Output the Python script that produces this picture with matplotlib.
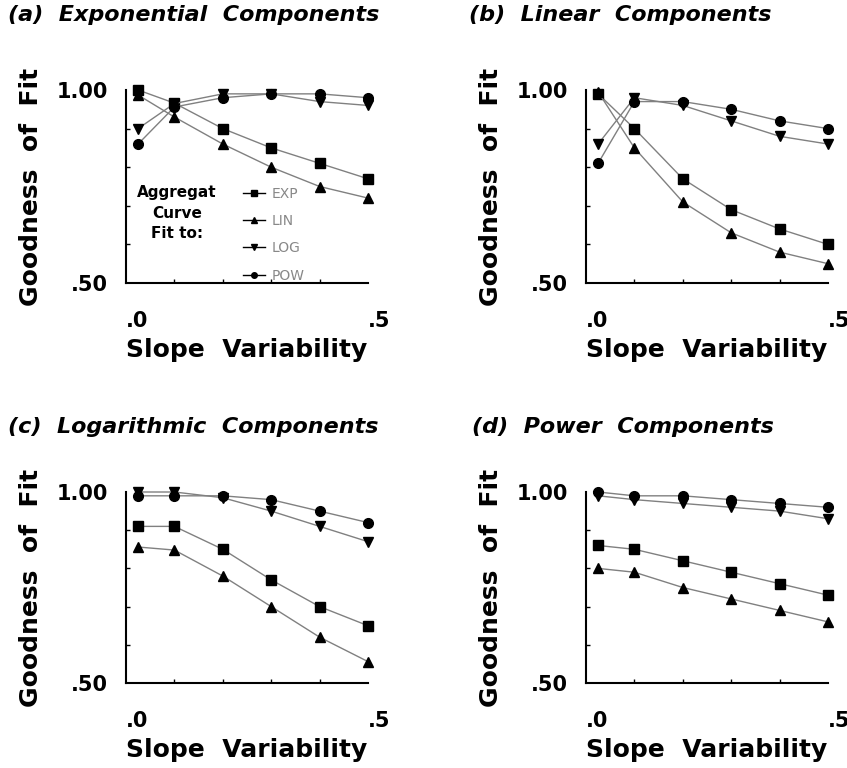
import matplotlib
matplotlib.use("Agg")
import matplotlib.pyplot as plt
from matplotlib.lines import Line2D
from matplotlib.ticker import FixedLocator

plt.rcParams['font.family'] = ['DejaVu Sans']

# slope variability levels
slope_var = [0.025, 0.1, 0.2, 0.3, 0.4, 0.5]

# (a) exponential components
a_exp = [1.00, 0.966, 0.90, 0.85, 0.81, 0.77]
a_lin = [0.987, 0.93, 0.86, 0.80, 0.75, 0.72]
a_log = [0.90, 0.965, 0.99, 0.99, 0.97, 0.96]
a_pow = [0.86, 0.956, 0.98, 0.99, 0.99, 0.98]

# (b) linear components
b_exp = [0.99, 0.90, 0.77, 0.69, 0.64, 0.60]
b_lin = [0.995, 0.85, 0.71, 0.63, 0.58, 0.55]
b_log = [0.86, 0.98, 0.96, 0.92, 0.88, 0.86]
b_pow = [0.81, 0.97, 0.97, 0.95, 0.92, 0.90]

# (c) logarithmic components
c_exp = [0.91, 0.91, 0.85, 0.77, 0.70, 0.65]
c_lin = [0.856, 0.848, 0.78, 0.70, 0.62, 0.556]
c_log = [1.00, 1.00, 0.985, 0.95, 0.91, 0.87]
c_pow = [0.99, 0.99, 0.99, 0.98, 0.95, 0.92]

# (d) power components
d_exp = [0.86, 0.85, 0.82, 0.79, 0.76, 0.73]
d_lin = [0.80, 0.79, 0.75, 0.72, 0.69, 0.66]
d_log = [0.99, 0.98, 0.97, 0.96, 0.95, 0.93]
d_pow = [1.00, 0.99, 0.99, 0.98, 0.97, 0.96]

fit_names = ['EXP', 'LIN', 'LOG', 'POW']
markers = ['s', '^', 'v', 'o']
titles = ['(a)  Exponential  Components', '(b)  Linear  Components',
          '(c)  Logarithmic  Components', '(d)  Power  Components']
panels = [
    [a_exp, a_lin, a_log, a_pow],
    [b_exp, b_lin, b_log, b_pow],
    [c_exp, c_lin, c_log, c_pow],
    [d_exp, d_lin, d_log, d_pow],
]

W, H = 847, 768
fig = plt.figure(figsize=(W / 100, H / 100), dpi=100)

# axes boxes in pixels: left, top, right, bottom
boxes = [(126, 90, 368, 283), (586, 90, 828, 283),
         (126, 492, 368, 683), (586, 492, 828, 683)]
title_pos = [(8, 15), (469, 15), (8, 427), (472, 427)]

for i, (series, box) in enumerate(zip(panels, boxes)):
    l, t, r, b = box
    ax = fig.add_axes([l / W, 1 - b / H, (r - l) / W, (b - t) / H])
    for vals, m in zip(series, markers):
        ax.plot(slope_var, vals, color='#808080', lw=1.0, marker=m,
                markersize=7, markerfacecolor='black', markeredgecolor='black',
                clip_on=False, zorder=3)
    ax.set_xlim(0, 0.5)
    ax.set_ylim(0.5, 1.0)
    for s in ['top', 'right']:
        ax.spines[s].set_visible(False)
    for s in ['left', 'bottom']:
        ax.spines[s].set_linewidth(1.5)
    ax.set_xticks([0, 0.5])
    ax.set_xticklabels(['.0', '.5'], ha='left', fontsize=15, fontweight='bold')
    ax.set_yticks([0.5, 1.0])
    ax.set_yticklabels(['.50', '1.00'], fontsize=15, fontweight='bold')
    ax.xaxis.set_minor_locator(FixedLocator([0.1, 0.2, 0.3, 0.4]))
    ax.yaxis.set_minor_locator(FixedLocator([0.6, 0.7, 0.8, 0.9]))
    ax.tick_params(axis='both', which='major', length=0, pad=13)
    ax.tick_params(axis='x', which='major', pad=20)
    ax.tick_params(axis='both', which='minor', direction='in', length=3, width=1)
    ax.set_xlabel('Slope  Variability', fontsize=18, fontweight='bold', labelpad=5)
    ax.set_ylabel('Goodness  of  Fit', fontsize=18, fontweight='bold', labelpad=10)

    tx, ty = title_pos[i]
    fig.text(tx / W, 1 - ty / H, titles[i], fontsize=16, fontweight='bold',
             style='italic', ha='left', va='center')

    if i == 0:
        fig.text(177 / W, 1 - 213 / H, 'Aggregat\nCurve\nFit to:', fontsize=11,
                 fontweight='bold', ha='center', va='center', linespacing=1.45)
        handles = [Line2D([], [], color='black', lw=1, marker=m, markersize=4)
                   for m in markers]
        ax.legend(handles, fit_names, loc='upper left',
                  bbox_to_anchor=(236 / W, 1 - 180 / H),
                  bbox_transform=fig.transFigure, frameon=False,
                  fontsize=10, labelcolor='#888888', handlelength=1.6,
                  handletextpad=0.5, labelspacing=0.95, borderpad=0)

fig.savefig('out.png', dpi=100)
